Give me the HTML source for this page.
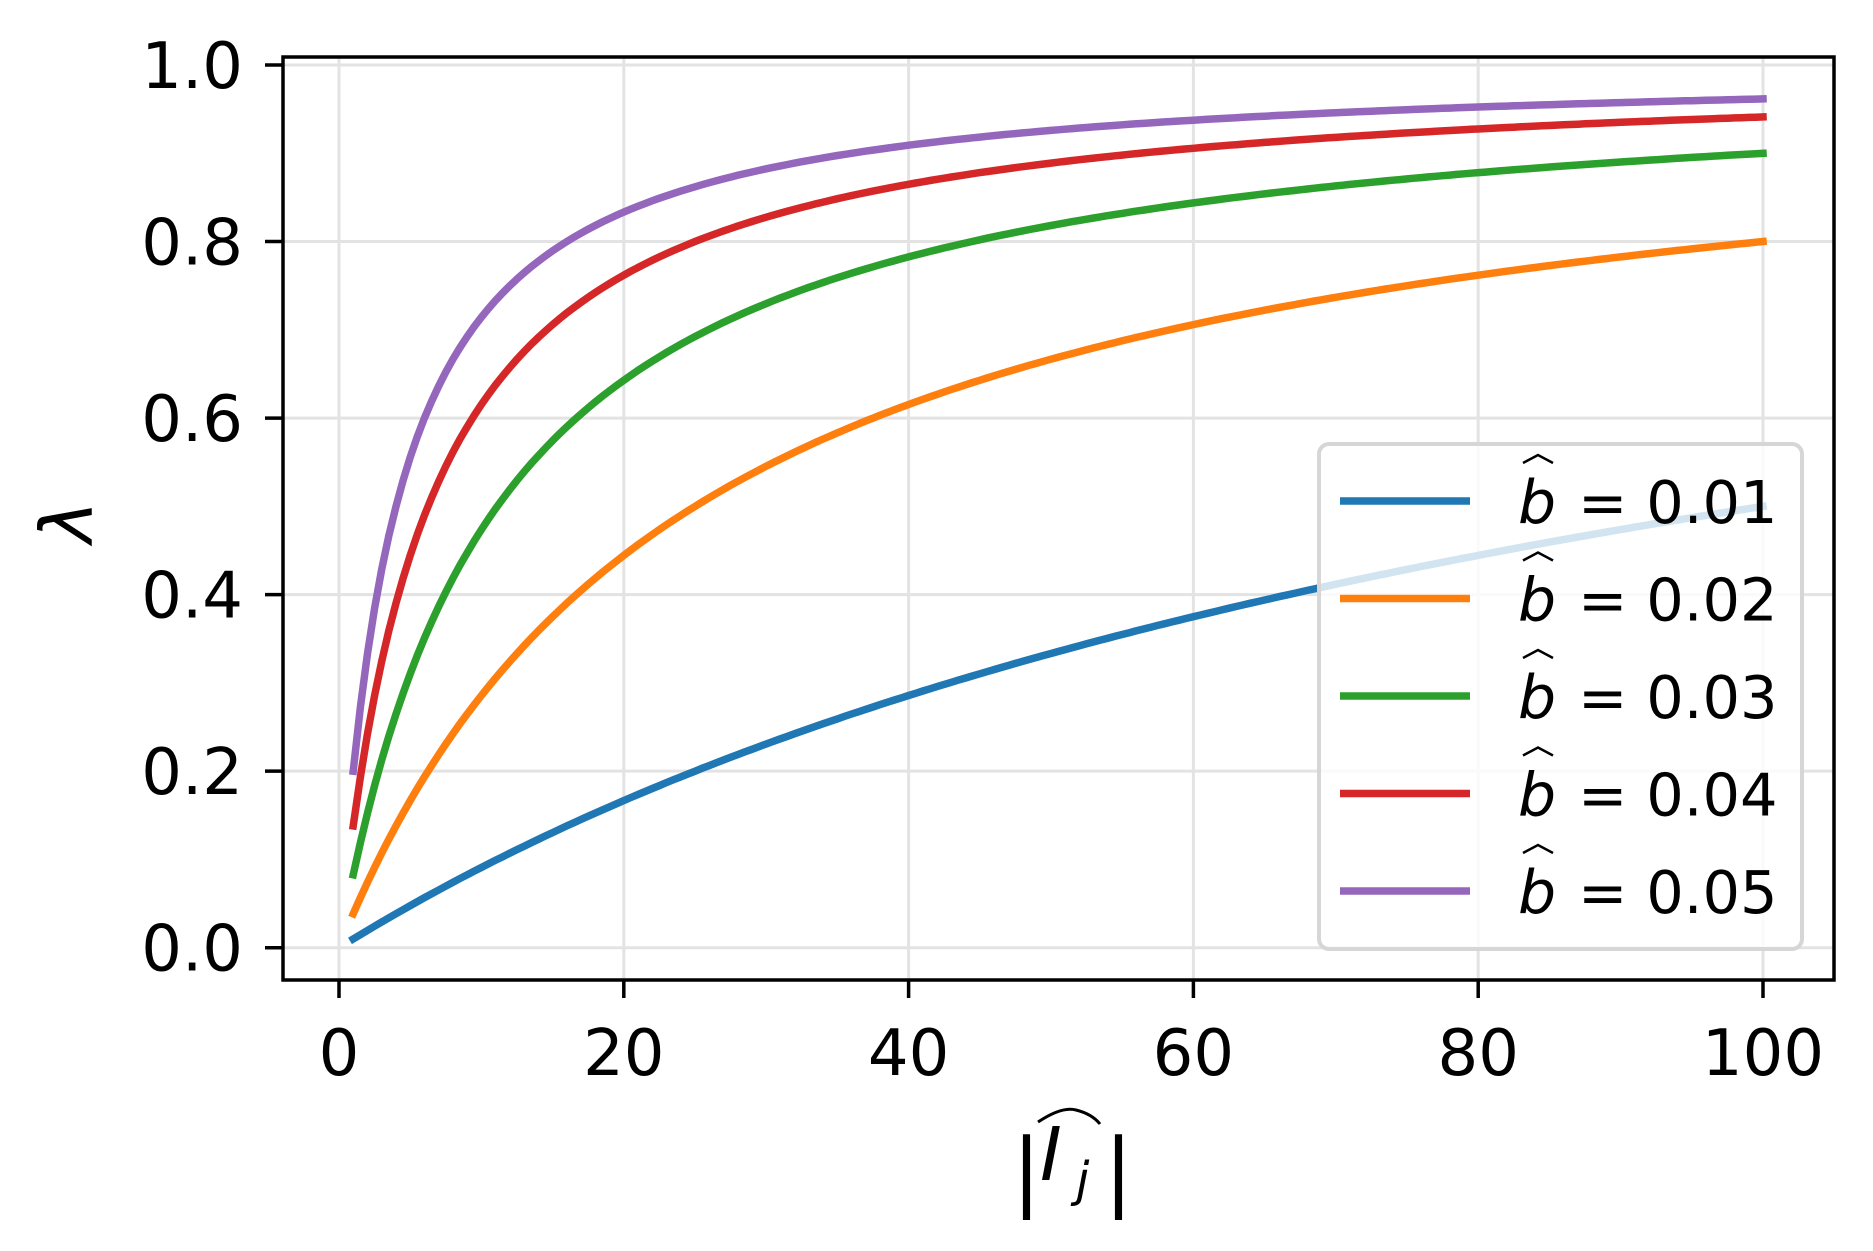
<!DOCTYPE html>
<html><head><meta charset="utf-8"><style>
html,body{margin:0;padding:0;background:#fff;}
svg{display:block;}
text{font-family:"DejaVu Sans","Liberation Sans",sans-serif;fill:#000;}
</style></head><body>
<svg id="s" width="1873" height="1251" xmlns="http://www.w3.org/2000/svg">
<g id="grid" stroke="#e3e3e3" stroke-width="3"></g>
<g id="curves" fill="none" stroke-width="7.5" stroke-linecap="square"></g>
<rect x="1319" y="444" width="483" height="505" rx="10" fill="#fff" fill-opacity="0.8" stroke="#d6d6d6" stroke-width="4"/>
<g id="leg"></g>
<rect x="283" y="57" width="1551" height="923" fill="none" stroke="#000" stroke-width="3.5"/>
<g id="ticks" stroke="#000" stroke-width="3.5"></g>
<g id="labels" font-size="64"></g>
<text x="0" y="0" font-size="72" font-style="italic" transform="translate(92,522) rotate(-90)" text-anchor="middle" font-family="DejaVu Serif,serif">λ</text>
<g font-family="Liberation Serif,serif">
<text x="1012" y="1200" font-size="86">|</text>
<text x="1040" y="1180" font-size="74" font-style="italic">I</text>
<text x="1076" y="1196" font-size="48" font-style="italic">j</text>
<text x="1104" y="1200" font-size="86">|</text>
<path d="M1038,1122 Q1062,1106 1076,1110 Q1092,1114 1100,1124" fill="none" stroke="#000" stroke-width="3"/>
</g>
</svg>
<script>
const NS="http://www.w3.org/2000/svg";
const X=n=>339+14.24*n, Y=v=>947.7-882.7*v;
function el(p,t,a,txt){const e=document.createElementNS(NS,t);for(const k in a)e.setAttribute(k,a[k]);if(txt!=null)e.textContent=txt;document.getElementById(p).appendChild(e);return e;}
for(let i=0;i<=5;i++){const x=X(i*20);el('grid','line',{x1:x,x2:x,y1:57,y2:980});
 el('ticks','line',{x1:x,x2:x,y1:980,y2:998});
 el('labels','text',{x:x,y:1075,'text-anchor':'middle'},String(i*20));}
for(let i=0;i<=5;i++){const v=i*0.2,y=Y(v);el('grid','line',{x1:283,x2:1834,y1:y,y2:y});
 el('ticks','line',{x1:265,x2:283,y1:y,y2:y});
 el('labels','text',{x:243,y:y+23,'text-anchor':'end'},v.toFixed(1));}
const cols=['#1f77b4','#ff7f0e','#2ca02c','#d62728','#9467bd'];
cols.forEach((c,i)=>{const b=(i+1)*0.01;let d='';
 for(let n=1;n<=100;n+=0.5){const k=100*n*b*b,v=k/(k+1);d+=(n==1?'M':'L')+X(n).toFixed(1)+','+Y(v).toFixed(1);}
 el('curves','path',{d:d,stroke:c});
 const y=501+i*97.5;
 el('leg','line',{x1:1340,x2:1470,y1:y,y2:y,stroke:c,'stroke-width':7.5});
 el('leg','text',{x:1518,y:y+22,'font-size':60,'font-style':'italic','font-family':'DejaVu Sans,sans-serif'},'b');
 el('leg','path',{d:`M1523,${y-38} L1538,${y-46} L1553,${y-38}`,fill:'none',stroke:'#000','stroke-width':2.5});
 el('leg','text',{x:1578,y:y+22,'font-size':59},'= 0.0'+(i+1));
});
</script>
</body></html>
